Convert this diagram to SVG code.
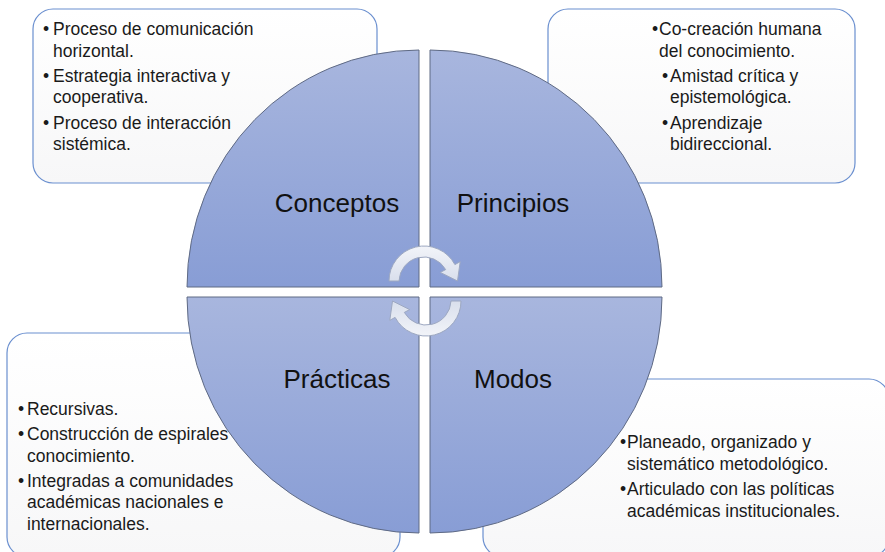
<svg xmlns="http://www.w3.org/2000/svg" width="885" height="552" viewBox="0 0 885 552">
  <defs>
    <linearGradient id="qfill" x1="0" y1="0" x2="0" y2="1">
      <stop offset="0" stop-color="#a8b6de"/>
      <stop offset="1" stop-color="#889dd5"/>
    </linearGradient>
    <linearGradient id="bfill" x1="0" y1="0" x2="0" y2="1">
      <stop offset="0" stop-color="#ffffff"/>
      <stop offset="1" stop-color="#f7f7f8"/>
    </linearGradient>
    <linearGradient id="afill" x1="0" y1="0" x2="0" y2="1">
      <stop offset="0" stop-color="#f2f4f9"/>
      <stop offset="1" stop-color="#d9dfec"/>
    </linearGradient>
  </defs>
  <style>
    .box { fill: url(#bfill); stroke: #6a8fcf; stroke-width: 1.2; }
    .quad { fill: url(#qfill); stroke: #5f6a84; stroke-width: 1; }
    .label { font-family: "Liberation Sans", Arial, sans-serif; font-size: 26px; fill: #111; text-anchor: middle; }
    .txt { font-family: "Liberation Sans", Arial, sans-serif; font-size: 17.5px; fill: #1a1a1a; }
    .arrow { fill: url(#afill); stroke: #9da8c1; stroke-width: 1; }
  </style>

  <!-- detail boxes (behind the circle) -->
  <g id="box-conceptos">
    <rect class="box" x="33" y="9" width="344" height="174" rx="20" ry="20"/>
  </g>
  <g id="box-principios">
    <rect class="box" x="548" y="9" width="307" height="174" rx="20" ry="20"/>
  </g>
  <g id="box-practicas">
    <rect class="box" x="7" y="333" width="393" height="224" rx="20" ry="20"/>
  </g>
  <g id="box-modos">
    <rect class="box" x="483" y="379" width="406" height="178" rx="20" ry="20"/>
  </g>

  <!-- quadrants -->
  <g id="conceptos">
    <path class="quad" d="M419,287 L419,50 A232,237 0 0 0 187,287 Z"/>
    <text class="label" x="337" y="212">Conceptos</text>
  </g>
  <g id="principios">
    <path class="quad" d="M430,287 L430,50 A232,237 0 0 1 662,287 Z"/>
    <text class="label" x="513" y="212">Principios</text>
  </g>
  <g id="practicas">
    <path class="quad" d="M419,297 L187,297 A232,236 0 0 0 419,533 Z"/>
    <text class="label" x="337" y="388">Prácticas</text>
  </g>
  <g id="modos">
    <path class="quad" d="M430,297 L662,297 A232,236 0 0 1 430,533 Z"/>
    <text class="label" x="513" y="388">Modos</text>
  </g>

  <!-- cycle arrows -->
  <g id="connectors">
    <path id="arrow-top" class="arrow" d="M389,281 A35,35 0 0 1 454.9,264.6 L460.2,261.7 L457.5,281 L440.3,272.4 L445.7,269.6 A25,25 0 0 0 399,281 Z"/>
    <path id="arrow-bottom" class="arrow" transform="rotate(180 425 291)" d="M389,281 A35,35 0 0 1 454.9,264.6 L460.2,261.7 L457.5,281 L440.3,272.4 L445.7,269.6 A25,25 0 0 0 399,281 Z"/>
  </g>

  <!-- box texts -->
  <g id="text-conceptos" class="txt">
    <text x="43" y="35">•</text><text x="53" y="35">Proceso de comunicación</text>
    <text x="53" y="57">horizontal.</text>
    <text x="43" y="82">•</text><text x="53" y="82">Estrategia interactiva y</text>
    <text x="53" y="103">cooperativa.</text>
    <text x="43" y="129">•</text><text x="53" y="129">Proceso de interacción</text>
    <text x="53" y="150">sistémica.</text>
  </g>
  <g id="text-principios" class="txt">
    <text x="652" y="35">•</text><text x="659" y="35">Co-creación humana</text>
    <text x="659" y="57">del conocimiento.</text>
    <text x="662" y="82">•</text><text x="670" y="82">Amistad crítica y</text>
    <text x="670" y="103">epistemológica.</text>
    <text x="662" y="129">•</text><text x="670" y="129">Aprendizaje</text>
    <text x="670" y="150">bidireccional.</text>
  </g>
  <g id="text-practicas" class="txt">
    <text x="18" y="415">•</text><text x="27" y="415">Recursivas.</text>
    <text x="18" y="440">•</text><text x="27" y="440">Construcción de espirales</text>
    <text x="27" y="462">conocimiento.</text>
    <text x="18" y="487">•</text><text x="27" y="487">Integradas a comunidades</text>
    <text x="27" y="508">académicas nacionales e</text>
    <text x="27" y="530">internacionales.</text>
  </g>
  <g id="text-modos" class="txt">
    <text x="620" y="448">•</text><text x="627" y="448">Planeado, organizado y</text>
    <text x="627" y="470">sistemático metodológico.</text>
    <text x="620" y="495">•</text><text x="627" y="495">Articulado con las políticas</text>
    <text x="627" y="517">académicas institucionales.</text>
  </g>
</svg>
